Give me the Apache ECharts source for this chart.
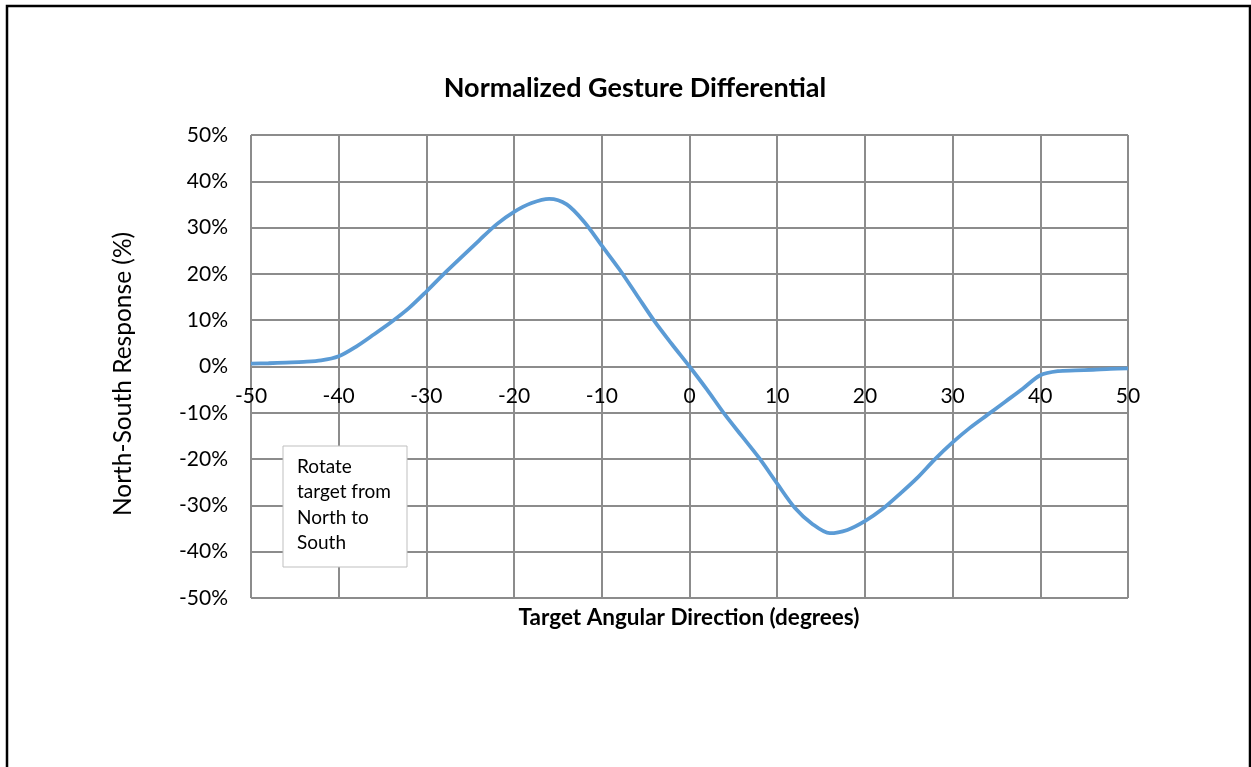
<!DOCTYPE html>
<html>
<head>
<meta charset="utf-8">
<script src="https://cdn.jsdelivr.net/npm/echarts@6/dist/echarts.min.js"></script>
<style>
html,body{margin:0;padding:0;background:#fff;}
#chart{width:1251px;height:767px;}
</style>
</head>
<body>
<div id="chart"></div>
<script>
// Data
const angles = [-50, -48, -46, -44, -42, -40, -38, -36, -34, -32, -30, -28, -26, -24, -22, -20, -18, -16, -14, -12, -10, -8, -6, -4, -2, 0,
                 2, 4, 6, 8, 10, 12, 14, 16, 18, 20, 22, 24, 26, 28, 30, 32, 34, 36, 38, 40, 42, 44, 46, 48, 50];
const response = [0.6, 0.7, 0.85, 1.0, 1.3, 2.2, 4.3, 6.9, 9.6, 12.6, 16.2, 20, 23.6, 27.2, 30.7, 33.4, 35.3, 36.2, 35, 31.2, 26.1, 21, 15.4, 9.8, 4.8, 0,
                  -5, -10.3, -15.1, -19.9, -25.3, -30.5, -34, -36, -35.3, -33.4, -30.8, -27.5, -24, -20, -16.4, -13.2, -10.4, -7.6, -4.8, -1.9, -1.0, -0.85, -0.7, -0.5, -0.4];
const xTicks = [-50, -40, -30, -20, -10, 0, 10, 20, 30, 40, 50];
const yTicks = [-50, -40, -30, -20, -10, 0, 10, 20, 30, 40, 50];

const titleText = 'Normalized Gesture Differential';
const xName = 'Target Angular Direction (degrees)';
const yName = 'North-South Response (%)';
const noteLines = ['Rotate', 'target from', 'North to', 'South'];

const FONT = 'Lato, "Open Sans", sans-serif';
const chart = echarts.init(document.getElementById('chart'));
const gridColor = '#8c8c8c';
const plotH = 767 - 135 - 169;

chart.setOption({
  animation: false,
  backgroundColor: '#fff',
  title: {
    text: titleText,
    left: 630, top: 70, textAlign: 'center',
    textStyle: {fontFamily: FONT, fontSize: 27, fontWeight: 'bold', color: '#000'}
  },
  grid: {left: 251, right: 123, top: 135, bottom: 169, containLabel: false},
  xAxis: {
    type: 'value', min: xTicks[0], max: xTicks[xTicks.length - 1], interval: 10,
    offset: -plotH / 2,
    axisLine: {show: true, onZero: false, lineStyle: {color: gridColor, width: 2}},
    axisTick: {show: false},
    axisLabel: {fontFamily: FONT, fontSize: 21, color: '#000', margin: 19,
      formatter: v => xTicks.includes(v) ? String(v) : ''},
    splitLine: {show: true, lineStyle: {color: gridColor, width: 2}}
  },
  yAxis: {
    type: 'value', min: yTicks[0], max: yTicks[yTicks.length - 1], interval: 10,
    axisLine: {show: true, lineStyle: {color: gridColor, width: 2}},
    axisTick: {show: false},
    axisLabel: {fontFamily: FONT, fontSize: 21, color: '#000', margin: 23,
      formatter: v => yTicks.includes(v) ? v + '%' : ''},
    splitLine: {show: true, lineStyle: {color: gridColor, width: 2}}
  },
  series: [{
    type: 'line',
    data: angles.map((a, i) => [a, response[i]]),
    smooth: 0.3,
    showSymbol: false,
    lineStyle: {color: '#5b9bd5', width: 3.8},
    z: 5
  }],
  graphic: [
    {type: 'rect', shape: {x: 7, y: 6, width: 1243, height: 800},
     style: {fill: 'none', stroke: '#000', lineWidth: 2.5}, z: 100, silent: true},
    {type: 'text', x: 689, y: 618, z: 50,
     style: {text: xName, fontFamily: FONT, fontSize: 22.5, fontWeight: 'bold', fill: '#000', align: 'center', verticalAlign: 'middle'}},
    {type: 'text', x: 123, y: 374, rotation: Math.PI / 2, z: 50,
     style: {text: yName, fontFamily: FONT, fontSize: 24.5, fill: '#000', align: 'center', verticalAlign: 'middle'}},
    {type: 'rect', z: 60, shape: {x: 283, y: 446, width: 124, height: 121},
     style: {fill: '#fff', stroke: '#bfbfbf', lineWidth: 1}},
    {type: 'text', z: 61, x: 297, y: 454,
     style: {text: noteLines.join('\n'), fontFamily: FONT, fontSize: 19, lineHeight: 25.5, fill: '#000'}}
  ]
});
</script>
</body>
</html>
